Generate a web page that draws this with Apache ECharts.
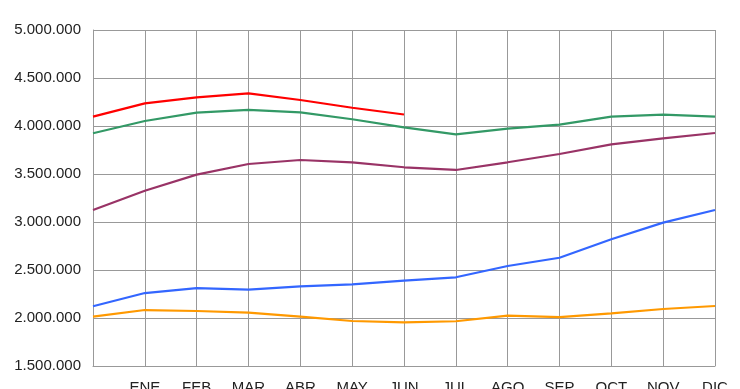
<!DOCTYPE html>
<html>
<head>
<meta charset="utf-8">
<script src="https://cdn.jsdelivr.net/npm/echarts@6/dist/echarts.min.js"></script>
<style>html,body{margin:0;padding:0;background:#fff;overflow:hidden}#c{width:740px;height:389px}</style>
</head>
<body>
<div id="c"></div>
<script>
const categories = ['', 'ENE', 'FEB', 'MAR', 'ABR', 'MAY', 'JUN', 'JUL', 'AGO', 'SEP', 'OCT', 'NOV', 'DIC'];
const yTicks = [1500000, 2000000, 2500000, 3000000, 3500000, 4000000, 4500000, 5000000];
const serieRoja = [4097000, 4236000, 4299000, 4340000, 4271000, 4190000, 4120000];
const serieVerde = [3924000, 4052000, 4139000, 4167000, 4142000, 4070000, 3986000, 3913000, 3972000, 4014000, 4097000, 4118000, 4097000];
const serieMorada = [3125000, 3326000, 3493000, 3604000, 3646000, 3622000, 3570000, 3542000, 3622000, 3708000, 3809000, 3872000, 3927000];
const serieAzul = [2122000, 2260000, 2312000, 2295000, 2330000, 2351000, 2389000, 2424000, 2542000, 2628000, 2820000, 2993000, 3125000];
const serieNaranja = [2014000, 2083000, 2073000, 2056000, 2014000, 1969000, 1955000, 1966000, 2024000, 2010000, 2049000, 2094000, 2125000];

function fmt(v) {
  return String(Math.round(v)).replace(/\B(?=(\d{3})+(?!\d))/g, '.');
}
function line(data, color) {
  return { type: 'line', data: data, symbol: 'none', smooth: false, lineStyle: { color: color, width: 2.2 }, itemStyle: { color: color }, z: 3 };
}
const chart = echarts.init(document.getElementById('c'), null, { renderer: 'canvas' });
chart.setOption({
  animation: false,
  backgroundColor: '#ffffff',
  grid: { left: 93, right: 25, top: 30, bottom: 23, containLabel: false, outerBoundsMode: 'none' },
  xAxis: {
    type: 'category', data: categories, boundaryGap: false,
    axisLine: { show: true, lineStyle: { color: '#999999', width: 1 } },
    axisTick: { show: false },
    splitLine: { show: true, lineStyle: { color: '#999999', width: 1 } },
    axisLabel: { interval: 0, margin: 14, color: '#222222', fontSize: 15, fontFamily: 'Liberation Sans, Arial, sans-serif' }
  },
  yAxis: {
    type: 'value', min: yTicks[0], max: yTicks[yTicks.length - 1], interval: 500000,
    axisLine: { show: true, lineStyle: { color: '#999999', width: 1 } },
    axisTick: { show: false },
    splitLine: { show: true, lineStyle: { color: '#999999', width: 1 } },
    axisLabel: { margin: 12, color: '#222222', fontSize: 15, fontFamily: 'Liberation Sans, Arial, sans-serif', formatter: fmt }
  },
  series: [
    line(serieNaranja, '#ff9900'),
    line(serieAzul, '#3366ff'),
    line(serieMorada, '#993366'),
    line(serieVerde, '#339966'),
    line(serieRoja, '#ff0000')
  ]
});
</script>
</body>
</html>
